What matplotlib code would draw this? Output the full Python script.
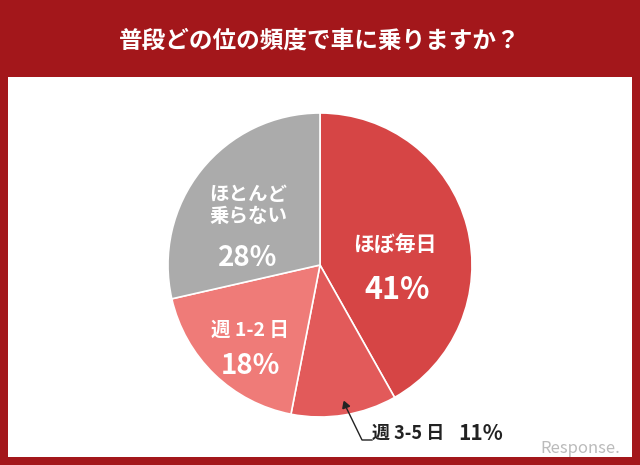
import matplotlib
matplotlib.use("Agg")
import matplotlib.pyplot as plt
from matplotlib.patches import Rectangle

plt.rcParams['font.family'] = ['Noto Sans CJK JP', 'DejaVu Sans']

title = "普段どの位の頻度で車に乗りますか？"
categories = ["ほぼ毎日", "週 3-5 日", "週 1-2 日", "ほとんど\n乗らない"]
values = [41, 11, 18, 28]
colors = ["#D64545", "#E25A5A", "#EF7B78", "#ABABAB"]

fig = plt.figure(figsize=(6.4, 4.65), dpi=100)
fig.patch.set_facecolor("#A3171B")
fig.add_artist(Rectangle((8/640, 8/465), 624/640, 380/465, transform=fig.transFigure,
                         facecolor="white", edgecolor="none", zorder=-5))
fig.text(0.5, 1 - 40/465, title, color="white", fontsize=17, fontweight="bold",
         ha="center", va="center")

W, H = 640, 465
cx, cy, r = 320, 265, 152
ax = fig.add_axes([(cx - r)/W, 1 - (cy + r)/H, 2*r/W, 2*r/H], zorder=1)
ax.patch.set_alpha(0)
ax.pie(values, colors=colors, startangle=90, counterclock=False,
       wedgeprops=dict(edgecolor="white", linewidth=1.2), radius=1)
ax.set_xlim(-1, 1); ax.set_ylim(-1, 1)
ax.set_aspect("equal"); ax.axis("off")

def ft(x, y, s, size, ha="center", color="white", weight="bold"):
    fig.text(x/W, 1 - y/H, s, fontsize=size, color=color, ha=ha, va="center",
             fontweight=weight, zorder=5)

ft(395, 245, categories[0], 15)
ft(397, 290, f"{values[0]}%", 22)
ft(250, 330, categories[2], 14)
ft(250, 366, f"{values[2]}%", 20)
ft(248, 205, categories[3], 14, )
ft(248, 258, f"{values[3]}%", 20)
ft(372, 433, categories[1], 13, ha="left", color="#222222")
ft(458, 433, f"{values[1]}%", 15, ha="left", color="#222222")

fig.add_artist(plt.Line2D([345/W, 362/W, 372/W], [1-405/H, 1-440/H, 1-440/H],
                          color="#222222", linewidth=1, zorder=5))
fig.add_artist(plt.Line2D([345/W], [1-405/H], marker=(3, 0, 20), color="#222222",
                          markersize=6, zorder=5))
ft(580, 448, "Response.", 12, color="#BBBBBB", weight="normal")

fig.savefig("out.png", dpi=100, facecolor=fig.get_facecolor())
